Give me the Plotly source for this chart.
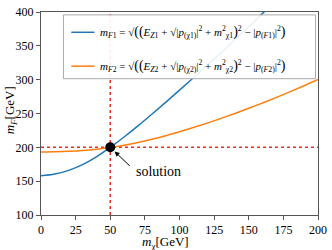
import plotly.graph_objects as go

# data
m_chi = [0, 10, 20, 30, 40, 50, 60, 70, 80, 90, 100, 110, 120, 130, 140, 150, 160, 170]
mF1 = [158, 160.5, 166, 174.5, 186, 200, 215.3, 231.7, 248.9, 266.5, 284.5, 302.8, 321.3, 340, 359, 378.3, 398, 418]
m_chi2 = [0, 10, 20, 30, 40, 50, 60, 70, 80, 90, 100, 110, 120, 130, 140, 150, 160, 170, 180, 190, 200]
mF2 = [193, 193.3, 194.1, 195.4, 197.3, 199.9, 203.2, 207.2, 211.9, 217.2, 223.0, 229.2, 235.8, 242.8, 250.1,
       257.7, 265.6, 273.8, 282.3, 291.1, 300.2]
sol_x = [50]
sol_y = [200]
x_ticks = [0, 25, 50, 75, 100, 125, 150, 175, 200]
y_ticks = [100, 150, 200, 250, 300, 350, 400]

BLUE = "#1f77b4"
ORANGE = "#ff7f0e"
RED = "#f02b1d"
SERIF = "Liberation Serif, DejaVu Serif, serif"

fig = go.Figure()
# reference lines
fig.add_trace(go.Scatter(x=[sol_x[0], sol_x[0]], y=[y_ticks[0], y_ticks[-1]], mode="lines",
                         line=dict(color=RED, width=1.5, dash="dot"), showlegend=False, hoverinfo="skip"))
fig.add_trace(go.Scatter(x=[x_ticks[0], x_ticks[-1]], y=[sol_y[0], sol_y[0]], mode="lines",
                         line=dict(color=RED, width=1.5, dash="dot"), showlegend=False, hoverinfo="skip"))
fig.add_trace(go.Scatter(x=m_chi, y=mF1, mode="lines", line=dict(color=BLUE, width=1.5, shape="spline"),
                         showlegend=False))
fig.add_trace(go.Scatter(x=m_chi2, y=mF2, mode="lines", line=dict(color=ORANGE, width=1.5, shape="spline"),
                         showlegend=False))
fig.add_trace(go.Scatter(x=sol_x, y=sol_y, mode="markers", marker=dict(color="black", size=10),
                         showlegend=False))

# legend (manual)
fig.add_shape(type="rect", xref="paper", yref="paper", x0=(63.5-40.7)/281.3, x1=(319.5-40.7)/281.3,
              y0=(215-74)/210, y1=(215-8)/210,
              line=dict(color="#aaa", width=1), fillcolor="rgba(255,255,255,0.9)", layer="above")
for yy, col in [(26, BLUE), (61, ORANGE)]:
    fig.add_shape(type="line", xref="paper", yref="paper", x0=(71.5-40.7)/281.3, x1=(95-40.7)/281.3,
                  y0=(215-yy)/210, y1=(215-yy)/210, line=dict(color=col, width=1.5), layer="above")

P = "<i>p</i>"
BIG = "<span style='font-size:14px'>%s</span>"

def formula(k):
    return ("<i>m</i><sub><i>F</i>" + k + "</sub> = √" + BIG % "(" + BIG % "(" +
            "<i>E</i><sub><i>Z</i>" + k + "</sub> + √|" + P + "<sub>(χ" + k + ")</sub>|<sup>2</sup>"
            " + <i>m</i><sup>2</sup><sub>χ" + k + "</sub>" + BIG % ")" + "<sup>2</sup>"
            " − |" + P + "<sub>(<i>F</i>" + k + ")</sub>|<sup>2</sup>" + BIG % ")")

for yy, k in [(26, "1"), (61, "2")]:
    fig.add_annotation(xref="paper", yref="paper", x=(99-40.7)/281.3, y=(215-yy)/210, xanchor="left",
                       yanchor="middle", text=formula(k), showarrow=False,
                       font=dict(family=SERIF, size=11, color="black"))

# solution arrow + label
fig.add_annotation(x=sol_x[0], y=sol_y[0], text="", showarrow=True, ax=21, ay=20, axref="pixel", ayref="pixel",
                   arrowhead=2, arrowsize=1, arrowwidth=1, arrowcolor="black", standoff=6)
fig.add_annotation(x=sol_x[0], y=sol_y[0], text="solution", showarrow=False, xanchor="left", yanchor="middle",
                   xshift=24, yshift=-24, font=dict(family=SERIF, size=14, color="black"))

# axis titles
fig.add_annotation(xref="paper", yref="paper", x=(167-40.7)/281.3, y=-(243.5-215)/210, xanchor="center",
                   yanchor="middle", text="<i>m</i><sub>χ</sub>[GeV]", showarrow=False,
                   font=dict(family=SERIF, size=13, color="black"))
fig.add_annotation(xref="paper", yref="paper", x=-(40.7-10)/281.3, y=(215-107)/210, xanchor="center",
                   yanchor="middle", text="<i>m</i><sub><i>F</i></sub>[GeV]", textangle=-90, showarrow=False,
                   font=dict(family=SERIF, size=13, color="black"))

axis_common = dict(showgrid=False, zeroline=False, showline=True, linecolor="#555", linewidth=1, mirror=True,
                   ticks="outside", ticklen=4, tickwidth=1, tickcolor="#555", ticklabeloverflow="allow",
                   tickfont=dict(family=SERIF, size=12, color="black"))
fig.update_xaxes(range=[x_ticks[0], x_ticks[-1]], tickvals=x_ticks, **axis_common)
fig.update_yaxes(range=[y_ticks[0], y_ticks[-1]], tickvals=y_ticks, **axis_common)

fig.update_layout(width=332, height=250, margin=dict(l=41, r=10, t=5, b=35),
                  plot_bgcolor="white", paper_bgcolor="white", showlegend=False)

fig.write_html("out.html", config={"displayModeBar": False},
               post_script="document.body.style.margin='0';document.body.style.overflow='hidden';")
